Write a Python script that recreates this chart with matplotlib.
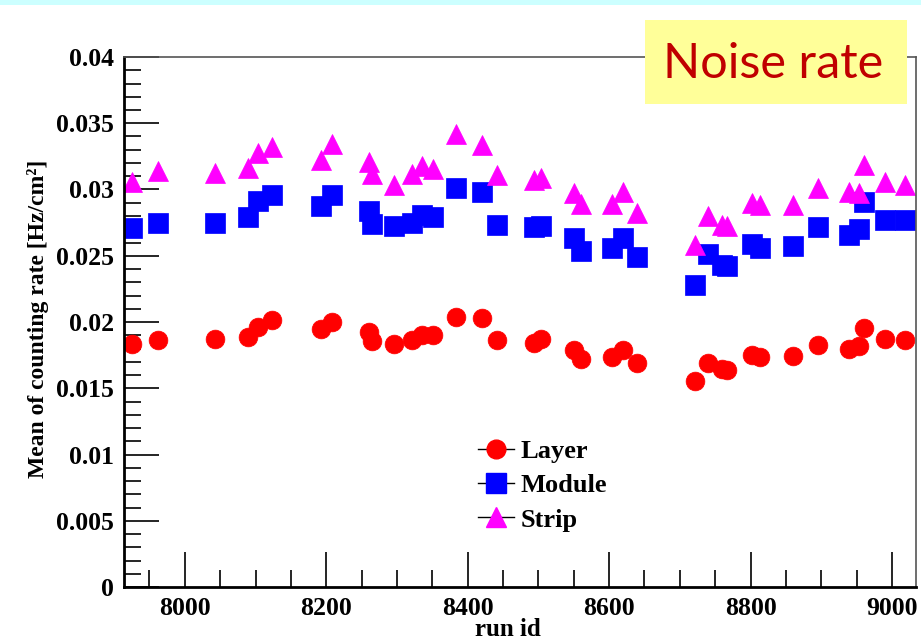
import matplotlib
matplotlib.use("Agg")
import matplotlib.pyplot as plt
from matplotlib.lines import Line2D
from matplotlib.ticker import MultipleLocator, FuncFormatter

# ---- data ----
runs = [7925, 7962, 8043, 8090, 8104, 8123,
        8192, 8208, 8260, 8265, 8296, 8321, 8336, 8351, 8383, 8420, 8442,
        8494, 8503, 8551, 8560, 8604, 8619, 8639, 8721, 8740,
        8759, 8767, 8802, 8813, 8860, 8895, 8939, 8954, 8960, 8990, 9018]

layer = [0.01834, 0.01864, 0.01872, 0.01887, 0.01965, 0.02013,
         0.01947, 0.02002, 0.01927, 0.01857, 0.01836, 0.01864, 0.01902, 0.01902, 0.02040, 0.02032, 0.01864,
         0.01844, 0.01872, 0.01789, 0.01721, 0.01734, 0.01789, 0.01691, 0.01555, 0.01688,
         0.01645, 0.01638, 0.01751, 0.01734, 0.01743, 0.01826, 0.01794, 0.01821, 0.01952, 0.01872, 0.01864]

module = [0.02707, 0.02749, 0.02749, 0.02795, 0.02915, 0.02958,
          0.02875, 0.02961, 0.02840, 0.02740, 0.02724, 0.02749, 0.02807, 0.02790, 0.03009, 0.02983, 0.02732,
          0.02715, 0.02727, 0.02636, 0.02538, 0.02558, 0.02634, 0.02488, 0.02279, 0.02513,
          0.02430, 0.02423, 0.02586, 0.02558, 0.02576, 0.02715, 0.02657, 0.02700, 0.02908, 0.02767, 0.02767]

strip = [0.03060, 0.03137, 0.03128, 0.03161, 0.03277, 0.03321,
         0.03223, 0.03340, 0.03207, 0.03118, 0.03035, 0.03118, 0.03175, 0.03155, 0.03417, 0.03338, 0.03112,
         0.03070, 0.03088, 0.02975, 0.02887, 0.02889, 0.02983, 0.02819, 0.02581, 0.02802,
         0.02730, 0.02723, 0.02898, 0.02881, 0.02881, 0.03008, 0.02983, 0.02974, 0.03183, 0.03053, 0.03035]

series = [("Layer", layer, "o", "#ff0000", 13.5),
          ("Module", module, "s", "#0000ff", 14.5),
          ("Strip", strip, "^", "#ff00ff", 14.5)]

SERIF = "Liberation Serif"

fig = plt.figure(figsize=(9.21, 6.41), dpi=100)
ax = fig.add_axes([124 / 921, 1 - 587 / 641, (916 - 124) / 921, (587 - 57) / 641])

# light cyan band across the top of the slide
fig.patches.append(plt.Rectangle((0, 1 - 5 / 641), 1, 5 / 641, transform=fig.transFigure,
                                 facecolor="#ccffff", edgecolor="none"))

handles = []
for label, vals, mk, col, ms in series:
    ax.plot(runs, vals, linestyle="none", marker=mk, markersize=ms,
            markerfacecolor=col, markeredgecolor=col, markeredgewidth=0.5)
    handles.append(Line2D([], [], color="black", lw=1.0, marker=mk, markersize=ms,
                          markerfacecolor=col, markeredgecolor=col, label=label))

ax.set_xlim(7914, 9034)
ax.set_ylim(0, 0.04)

ax.xaxis.set_major_locator(MultipleLocator(200))
ax.xaxis.set_minor_locator(MultipleLocator(50))
ax.yaxis.set_major_locator(MultipleLocator(0.005))
ax.yaxis.set_minor_locator(MultipleLocator(0.001))
ax.yaxis.set_major_formatter(FuncFormatter(lambda v, _: f"{v:g}"))

ax.tick_params(which="both", direction="in", top=False, right=False, width=1.2, colors="black")
ax.tick_params(which="major", length=25, pad=7)
ax.tick_params(which="minor", length=12)
for lab in ax.get_xticklabels() + ax.get_yticklabels():
    lab.set_fontfamily(SERIF)
    lab.set_fontweight("bold")
    lab.set_fontsize(18.5)

ax.spines["left"].set_linewidth(2)
ax.spines["bottom"].set_linewidth(2)
for s in ("top", "right"):
    ax.spines[s].set_linewidth(1.2)
    ax.spines[s].set_color("#555555")

ax.set_xlabel("run id", fontfamily=SERIF, fontweight="bold", fontsize=18)
ax.xaxis.set_label_coords(0.485, -0.058)
ax.xaxis.label.set_va("top")
ax.set_ylabel("Mean of counting rate [Hz/cm²]", fontfamily=SERIF, fontweight="bold",
              fontsize=17)
ax.yaxis.set_label_coords(-0.095, 0.505)

ax.legend(handles=handles, loc="upper left", bbox_to_anchor=(478 / 921, 1 - 440 / 641),
          bbox_transform=fig.transFigure, frameon=False,
          prop={"family": SERIF, "weight": "bold", "size": 19},
          handlelength=1.35, handletextpad=0.27, labelspacing=0.4, borderpad=0,
          borderaxespad=0)

# yellow "Noise rate" label box
fig.patches.append(plt.Rectangle((645 / 921, 1 - 104 / 641), 262 / 921, 84 / 641,
                                 transform=fig.transFigure, facecolor="#ffff99",
                                 edgecolor="none", zorder=5))
fig.text(773 / 921, 1 - 78.5 / 641, "Noise rate", fontfamily="Lato", fontsize=35,
         color="#c00000", ha="center", va="baseline", zorder=6)

fig.savefig("out.png", dpi=100)
